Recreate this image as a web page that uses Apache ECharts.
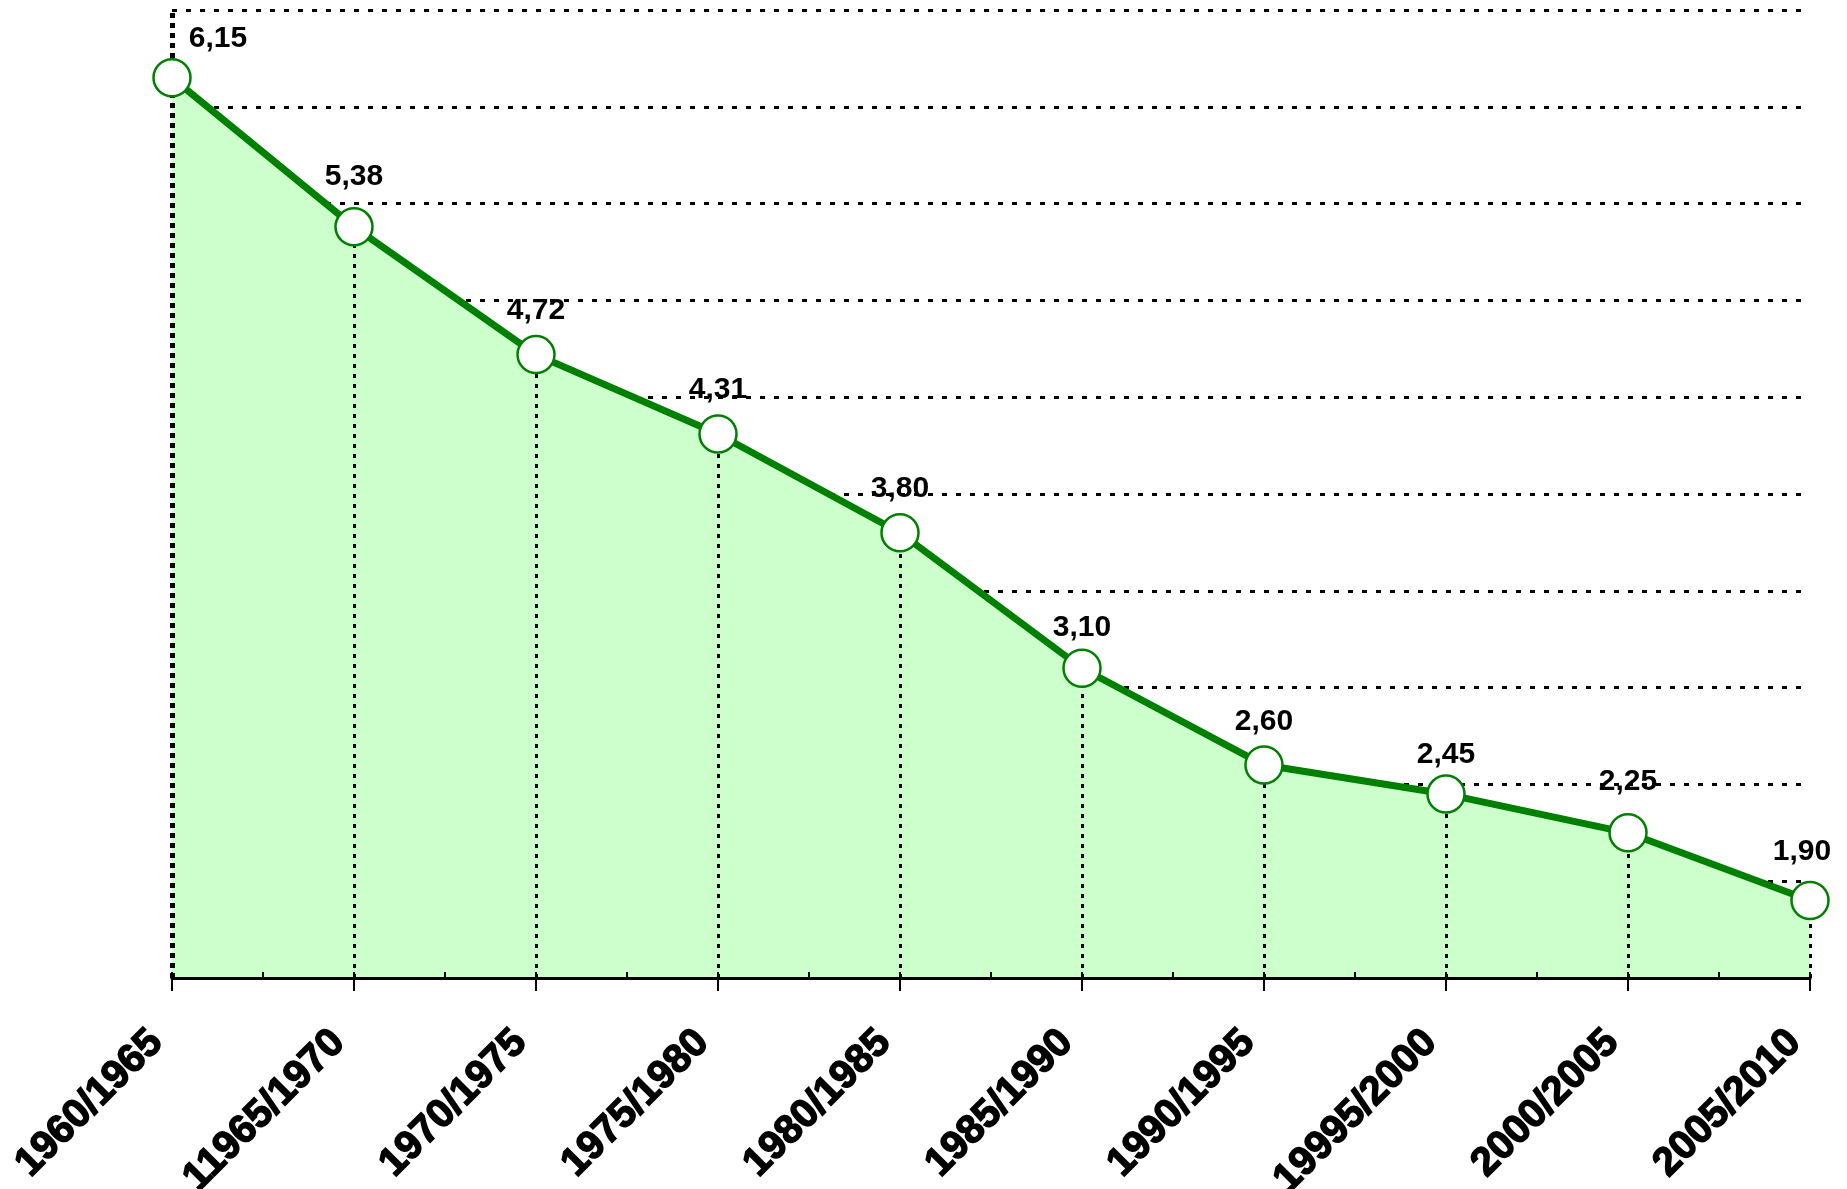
<!DOCTYPE html>
<html lang="en">
<head>
    <meta charset="UTF-8">
    <title>Chart</title>
    <style>
        html, body { margin: 0; padding: 0; background: #fff; }
        #main { width: 1847px; height: 1189px; }
    </style>
</head>
<body>
<div id="main"></div>

<script src="https://cdn.jsdelivr.net/npm/echarts@6/dist/echarts.min.js"></script>

<script>
var categories = ['1960/1965', '11965/1970', '1970/1975', '1975/1980', '1980/1985',
                  '1985/1990', '1990/1995', '19995/2000', '2000/2005', '2005/2010'];
var values = [6.15, 5.38, 4.72, 4.31, 3.80, 3.10, 2.60, 2.45, 2.25, 1.90];
var yMin = 1.5, yMax = 6.5, yStep = 0.5;

var green = '#008000';
var font = 'Liberation Sans, Arial, sans-serif';

// drop lines from the axis up to each point, the first one is the dotted y axis
var drops = values.map(function (v, i) {
    if (i === 0) {
        return [{coord: [i, yMin], lineStyle: {width: 5, type: [5, 5], color: '#000'}},
                {coord: [i, yMax]}];
    }
    return [{coord: [i, yMin]}, {coord: [i, v]}];
});

// small nudges of the value labels, as in the original
var labelShift = [[46, 5], [0, -6], [0, 0], [0, 0], [0, 0], [0, 3], [0, 0], [0, 4], [0, -7], [-8, -5]];

var pointData = values.map(function (v, i) {
    return {value: v, label: {offset: labelShift[i]}};
});

var myChart = echarts.init(document.getElementById('main'));

myChart.setOption({
    animation: false,
    grid: {left: 172, right: 37, top: 10, bottom: 211, outerBoundsMode: 'none', containLabel: false},
    xAxis: [
        {
            type: 'category',
            data: categories,
            boundaryGap: false,
            position: 'bottom',
            z: 4,
            axisLine: {lineStyle: {color: '#000', width: 3}},
            axisTick: {length: 13, lineStyle: {color: '#000', width: 2}},
            axisLabel: {
                rotate: 45, margin: 43, color: '#000',
                fontFamily: font, fontWeight: 'bold', fontSize: 40,
                textBorderColor: '#000', textBorderWidth: 1.5,
                padding: [0, 22, 0, 0]
            },
            splitLine: {show: false}
        },
        {
            // only gives the small inside ticks at half steps
            type: 'value',
            min: 0, max: categories.length - 1, interval: 0.5,
            position: 'bottom',
            z: 4,
            axisLine: {show: false},
            axisTick: {show: true, inside: true, length: 6, lineStyle: {color: '#000', width: 2}},
            axisLabel: {show: false},
            splitLine: {show: false}
        }
    ],
    yAxis: {
        type: 'value',
        min: yMin, max: yMax, interval: yStep,
        axisLine: {show: false},
        axisTick: {show: false},
        axisLabel: {show: false},
        splitLine: {lineStyle: {color: '#000', width: 3, type: [5, 9]}}
    },
    series: [
        {
            name: 'area',
            type: 'line',
            z: 1,
            data: values,
            symbol: 'none',
            lineStyle: {width: 0},
            areaStyle: {color: '#CCFFCC', opacity: 1, origin: 'start'},
            silent: true,
            markLine: {
                z: 2,
                silent: true,
                symbol: ['none', 'none'],
                label: {show: false},
                lineStyle: {color: '#000', width: 3, type: [4, 6]},
                data: drops
            }
        },
        {
            name: 'line',
            type: 'line',
            z: 3,
            data: pointData,
            symbol: 'circle',
            symbolSize: 37,
            lineStyle: {color: green, width: 7},
            itemStyle: {color: '#fff', borderColor: green, borderWidth: 2.5},
            label: {
                show: true,
                position: 'top',
                distance: 9,
                color: '#000',
                fontFamily: font,
                fontWeight: 'bold',
                fontSize: 30,
                formatter: function (p) {
                    return p.value.toFixed(2).replace('.', ',');
                }
            }
        }
    ]
});
</script>
</body>
</html>
